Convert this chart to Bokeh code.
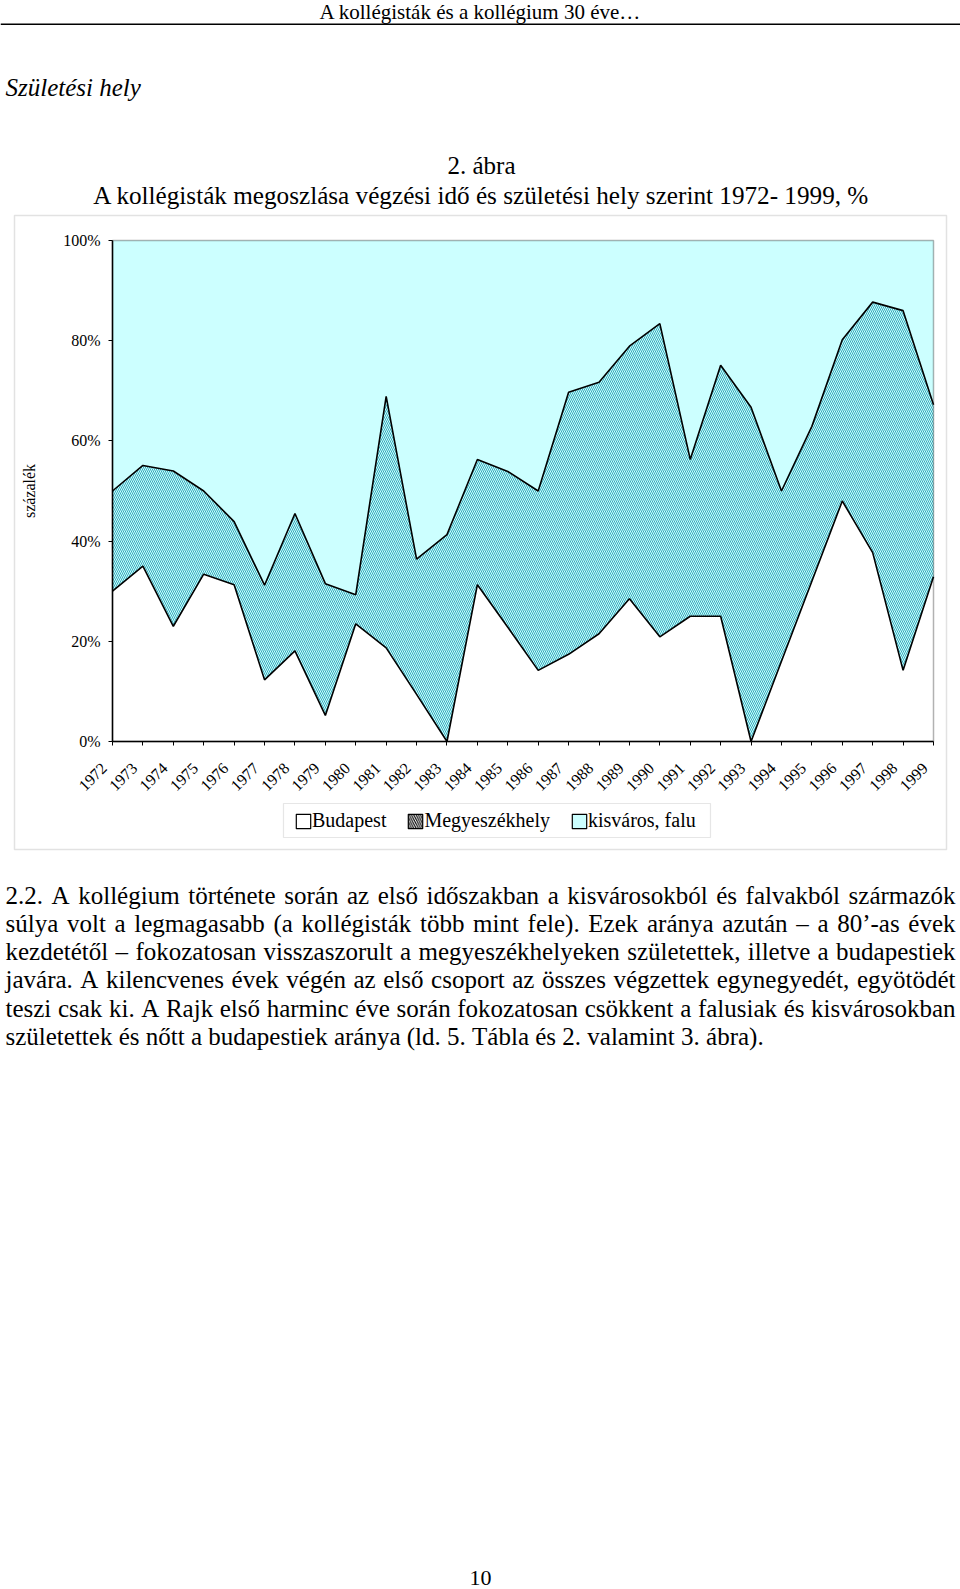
import math
import unicodedata
import numpy as np
from bokeh.plotting import figure
from bokeh.core.properties import value
from bokeh.models import (Range1d, FixedTicker, LabelSet, ColumnDataSource,
                          Legend, LegendItem, BoxAnnotation, LinearAxis)
from bokeh.embed import file_html
from bokeh.resources import INLINE

# ---------------- data ----------------
years = list(range(1972, 2000))
budapest = [30, 35, 23, 33.4, 31.3, 12.3, 18.1, 5.2, 23.5, 18.7, 9.4, 0, 31.3, 22.8,
            14.2, 17.4, 21.5, 28.5, 20.9, 25, 25, 0, 16, 32, 48, 37.7, 14.2, 32.9]
megyeszekhely = [20, 20.1, 31, 16.6, 12.6, 18.9, 27.4, 26.3, 5.8, 50.2, 27, 41.3, 25, 31.1,
                 35.8, 52.3, 50.2, 50.4, 62.5, 31.3, 50.1, 66.7, 34, 30.9, 32.2, 50, 71.8, 34.3]
kisvaros = [50, 44.9, 46, 50, 56.1, 68.8, 54.5, 68.5, 70.7, 31.1, 63.6, 58.7, 43.7, 46.1,
            50, 30.3, 28.3, 21.1, 16.6, 43.7, 24.9, 33.3, 50, 37.1, 19.8, 12.3, 14, 32.8]
series_names = ["Budapest", "Megyeszékhely", "kisváros, falu"]
y_ticks = [0, 20, 40, 60, 80, 100]
y_tick_labels = ["0%", "20%", "40%", "60%", "80%", "100%"]

header_text = "A kollégisták és a kollégium 30 éve…"
section_text = "Születési hely"
fig_no_text = "2. ábra"
title_text = "A kollégisták megoszlása végzési idő és születési hely szerint 1972- 1999, %"
y_label_text = "százalék"
paragraph = [
    "2.2. A kollégium története során az első időszakban a kisvárosokból és falvakból származók",
    "súlya volt a legmagasabb (a kollégisták több mint fele). Ezek aránya azután – a 80’-as évek",
    "kezdetétől – fokozatosan visszaszorult a megyeszékhelyeken születettek, illetve a budapestiek",
    "javára. A kilencvenes évek végén az első csoport az összes végzettek egynegyedét, egyötödét",
    "teszi csak ki. A Rajk első harminc éve során fokozatosan csökkent a falusiak és kisvárosokban",
    "születettek és nőtt a budapestiek aránya (ld. 5. Tábla és 2. valamint 3. ábra).",
]
page_number = "10"

# ---------------- page geometry (pixels) ----------------
W, H = 960, 1589
PL, PR, PT, PB = 112, 933, 240, 741          # plot area on the page
FONT = "Liberation Serif"
LABEL_SHIFT = 8.5                              # year labels sit a little left of their ticks

kx = (PR - PL) / (years[-1] - years[0])       # px per year
ky = (PB - PT) / 100.0                        # px per percent
x_range = Range1d(years[0] - PL / kx, years[-1] + (W - PR) / kx)
y_range = Range1d(0 - (H - PB) / ky, 100 + PT / ky)

p = figure(width=W, height=H, output_backend="svg", toolbar_location=None,
           x_range=x_range, y_range=y_range, x_axis_location=None, y_axis_location=None,
           min_border=0)
p.extra_x_ranges = {"labels": Range1d(x_range.start + LABEL_SHIFT / kx, x_range.end + LABEL_SHIFT / kx)}
p.background_fill_color = "white"
p.border_fill_color = "white"
p.outline_line_color = None
p.xgrid.visible = False
p.ygrid.visible = False

lower = np.array(budapest, dtype=float)
upper = lower + np.array(megyeszekhely, dtype=float)
top = upper + np.array(kisvaros, dtype=float)
src = ColumnDataSource(dict(x=years, zero=[0.0] * len(years), b=lower, bm=upper, top=top))

CYAN = "#ccffff"
p.varea(x="x", y1="zero", y2="b", source=src, fill_color="white")
p.varea(x="x", y1="b", y2="bm", source=src, fill_color=CYAN,
        hatch_pattern="\\", hatch_color="#38aabb", hatch_scale=4, hatch_weight=1.0)
p.varea(x="x", y1="bm", y2="top", source=src, fill_color=CYAN)
p.line(x="x", y="b", source=src, line_color="black", line_width=1.6)
p.line(x="x", y="bm", source=src, line_color="black", line_width=1.6)

# plot-area border
p.add_layout(BoxAnnotation(left=years[0], right=years[-1], bottom=0, top=100,
                           fill_alpha=0, line_color="black", line_width=1.5))

# axes at fixed locations
xaxis = LinearAxis(fixed_location=0, bounds=(years[0], years[-1]),
                   ticker=FixedTicker(ticks=years))
xlab = LinearAxis(fixed_location=0, x_range_name="labels", bounds=(years[0], years[-1]),
                  ticker=FixedTicker(ticks=years), major_label_orientation=math.pi / 4)
yaxis = LinearAxis(fixed_location=years[0], bounds=(0, 100),
                   ticker=FixedTicker(ticks=y_ticks),
                   major_label_overrides={t: l for t, l in zip(y_ticks, y_tick_labels)})
for ax in (xaxis, yaxis, xlab):
    ax.axis_line_color = "black"
    ax.axis_line_width = 1.5
    ax.major_tick_line_color = "black"
    ax.major_tick_in = 0
    ax.major_tick_out = 4
    ax.minor_tick_line_color = None
    ax.major_label_text_font = FONT
    ax.major_label_text_font_size = "16px"
    ax.major_label_text_color = "black"
xaxis.major_label_text_color = None
xlab.axis_line_color = None
xlab.major_tick_line_color = None
xlab.major_label_standoff = 20
yaxis.major_label_standoff = 8
yaxis.axis_label = y_label_text
yaxis.axis_label_text_font = FONT
yaxis.axis_label_text_font_size = "16px"
yaxis.axis_label_text_font_style = "normal"
yaxis.axis_label_text_color = "black"
yaxis.axis_label_standoff = 22
p.add_layout(xaxis, "below")
p.add_layout(xlab, "below")
p.add_layout(yaxis, "left")

# legend: icon-only renderers (a single NaN row, so nothing shows in the plot)
nan_src = dict(left=np.array([np.nan]), right=np.array([np.nan]),
               top=np.array([np.nan]), bottom=np.array([np.nan]))
r1 = p.quad(source=ColumnDataSource(nan_src), fill_color="white", line_color="black", line_width=1.2)
r2 = p.quad(source=ColumnDataSource(nan_src), fill_color="white", line_color="black", line_width=1.2,
            hatch_pattern="\\", hatch_color="black", hatch_scale=4.5, hatch_weight=1.1)
r3 = p.quad(source=ColumnDataSource(nan_src), fill_color=CYAN, line_color="black", line_width=1.2)
legend = Legend(items=[LegendItem(label=n, renderers=[r]) for n, r in zip(series_names, [r1, r2, r3])],
                orientation="horizontal", location=(294, H - 832),
                label_text_font=FONT, label_text_font_size="20px", label_text_color="black",
                glyph_width=18, glyph_height=18, label_standoff=0, spacing=20,
                padding=0, margin=0, border_line_alpha=0, background_fill_alpha=0)
p.add_layout(legend)


def sy(y):
    return H - y


def box(l, r, t, b, **kw):
    p.add_layout(BoxAnnotation(left=l, right=r, top=sy(t), bottom=sy(b),
                               left_units="screen", right_units="screen",
                               top_units="screen", bottom_units="screen", **kw))


box(14, 946, 215, 849, fill_alpha=0, line_color="#a0a0a0", line_width=1.5)
box(283, 710, 803, 837, fill_alpha=0, line_color="#acacac", line_width=1.2)
box(0, 960, 23, 24.5, fill_color="black", fill_alpha=1, line_alpha=0)


def add_texts(xs, ys, ts, size, align="left", style="normal"):
    s = ColumnDataSource(dict(x=xs, y=[sy(v) for v in ys], t=ts))
    p.add_layout(LabelSet(x="x", y="y", text="t", source=s, x_units="screen", y_units="screen",
                          text_font=value(FONT), text_font_size=value(f"{size}px"),
                          text_font_style=value(style), text_align=value(align),
                          text_baseline=value("alphabetic"), text_color=value("black")))


add_texts([480], [18.5], [header_text], 21, align="center")
add_texts([5], [95], [section_text], 25, style="italic")
add_texts([481], [173], [fig_no_text], 25, align="center")
add_texts([481], [203], [title_text], 25.2, align="center")
add_texts([480], [1584], [page_number], 22, align="center")

# justified paragraph (Times metrics)
AFM = dict(zip("abcdefghijklmnopqrstuvwxyz",
               [444, 500, 444, 500, 444, 333, 500, 500, 278, 278, 500, 278, 778, 500, 500, 500, 500,
                333, 389, 278, 500, 500, 722, 500, 500, 444]))
AFM.update(zip("ABCDEFGHIJKLMNOPQRSTUVWXYZ",
               [722, 667, 667, 722, 611, 556, 722, 722, 333, 389, 722, 611, 889, 722, 722, 556, 722,
                667, 556, 611, 722, 722, 944, 722, 722, 611]))
AFM.update({c: 500 for c in "0123456789"})
AFM.update({" ": 250, ".": 250, ",": 250, "-": 333, "(": 333, ")": 333, "’": 333, "–": 500,
            "%": 833, ":": 278, ";": 278, "…": 1000})


def tw(s, size):
    tot = 0
    for c in s:
        base = unicodedata.normalize("NFD", c)[0]
        tot += AFM.get(c, AFM.get(base, 500))
    return tot * size / 1000.0


PS = 25
LEFT, RIGHT = 5, 955
pxs, pys, pts = [], [], []
for i, line in enumerate(paragraph):
    words = line.split(" ")
    yb = 903 + i * 28.3
    if i < len(paragraph) - 1:
        gap = (RIGHT - LEFT - sum(tw(w, PS) for w in words)) / (len(words) - 1)
    else:
        gap = tw(" ", PS)
    x = LEFT
    for w in words:
        pxs.append(x)
        pys.append(yb)
        pts.append(w)
        x += tw(w, PS) + gap
add_texts(pxs, pys, pts, PS)

open("out.html", "w").write(file_html(p, INLINE))
